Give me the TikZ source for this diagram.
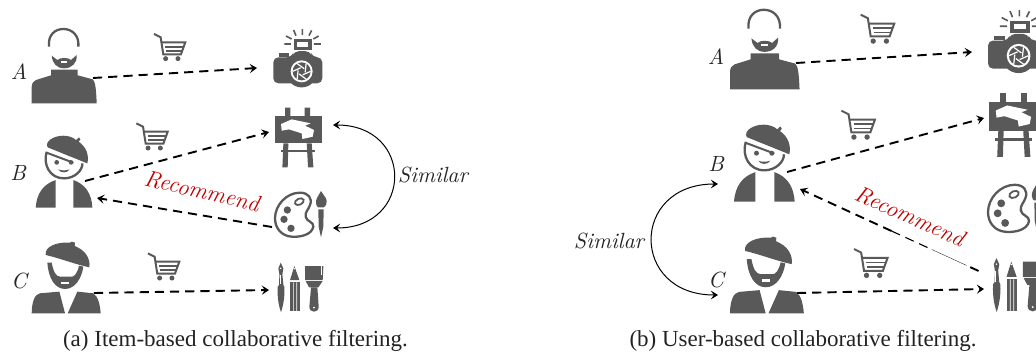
\documentclass[tikz,border=0pt]{standalone}
\usepackage{fontspec}
\setmainfont{Liberation Serif}
\usetikzlibrary{arrows.meta,calc}
\definecolor{icongray}{HTML}{595959}
\definecolor{recred}{HTML}{C00000}
\definecolor{captink}{HTML}{222222}
\newcommand{\handfont}{\fontspec{Latin Modern Roman}\itshape}
\tikzset{
  dashflow/.style={black,line width=0.95pt,dash pattern=on 4.6pt off 3pt,-{Stealth[length=3.6pt,width=4.6pt,inset=1.5pt]}},
  dashplain/.style={black,line width=0.95pt,dash pattern=on 4.6pt off 3pt},
  simarc/.style={black,line width=0.5pt,{Stealth[length=3.6pt,width=4.4pt,inset=1.5pt]}-{Stealth[length=3.6pt,width=4.4pt,inset=1.5pt]}},
  hand/.style={font=\handfont\fontsize{11}{13}\selectfont,inner sep=0pt,text=black!85},
  rec/.style={font=\handfont\fontsize{11.6}{13}\selectfont,inner sep=0pt,text=recred},
  caption/.style={font=\fontsize{11.5}{13}\selectfont,inner sep=0pt,text=captink,anchor=base},
  manA/.pic={
    \begin{scope}[scale=0.3333,shift={(-95,-310)}]
      \draw[icongray,line width=1.15pt] (147,140) .. controls (143,105) and (165,87) .. (190,87) .. controls (215,87) and (238,105) .. (235,140);
      \fill[icongray] (155,167) -- (172,180) .. controls (180,172) and (205,172) .. (213,180) -- (230,165) .. controls (232,190) and (215,205) .. (192,205) .. controls (170,205) and (157,190) .. (155,167) -- cycle;
      \fill[white] (182,184) rectangle (202,189);
      \fill[icongray] (95,310) -- (95,262) .. controls (95,250) and (100,243) .. (108,240) -- (153,226) -- (153,209) -- (233,209) -- (233,226) -- (278,238) .. controls (285,245) and (288,260) .. (290,310) -- cycle;
    \end{scope}
  },
  manB/.pic={
    \begin{scope}[scale=0.3333,shift={(-107,-293)}]
      \draw[icongray,line width=1.15pt] (140,125) .. controls (128,165) and (150,205) .. (192,205) .. controls (225,205) and (248,180) .. (247,160);
      \draw[icongray,line width=1pt] (140,128) -- (220,158);
      \fill[icongray] (143,112) .. controls (133,95) and (160,77) .. (190,77) .. controls (205,77) and (220,82) .. (228,90) -- (237,82) -- (241,88) -- (236,95) .. controls (258,110) and (268,135) .. (262,160) -- cycle;
      \fill[icongray] (170,157) circle[radius=7] (213,157) circle[radius=7];
      \fill[icongray] (175,178) .. controls (185,182) and (198,182) .. (208,178) .. controls (204,190) and (180,190) .. (175,178) -- cycle;
      \fill[icongray] (107,293) .. controls (110,250) and (130,222) .. (167,210) -- (167,293) -- cycle;
      \fill[icongray] (220,210) .. controls (255,222) and (275,250) .. (277,293) -- (220,293) -- cycle;
    \end{scope}
  },
  manC/.pic={
    \begin{scope}[scale=0.3333,shift={(-95,-265)}]
      \fill[icongray] (137,90) .. controls (133,65) and (170,50) .. (210,53) -- (215,50) -- (225,53) -- (224,63) .. controls (255,75) and (272,100) .. (268,127) .. controls (225,118) and (180,100) .. (137,90) -- cycle;
      \fill[icongray] (142,113) -- (155,113) .. controls (160,140) and (168,155) .. (180,155) -- (212,155) .. controls (222,158) and (232,145) .. (237,122) -- (250,125) .. controls (245,160) and (225,192) .. (195,192) .. controls (165,192) and (145,160) .. (142,113) -- cycle;
      \fill[white] (184,170) rectangle (206,178);
      \fill[icongray] (95,265) .. controls (95,230) and (105,207) .. (120,205) -- (178,200) -- (195,265) -- cycle;
      \fill[icongray] (203,265) -- (232,200) -- (280,205) .. controls (295,215) and (300,240) .. (302,265) -- cycle;
    \end{scope}
  },
  cart/.pic={
    \begin{scope}[scale=0.3333,shift={(-460,-100)}]
      \draw[icongray,line width=1pt] (462,102) -- (482,112) -- (490,163) -- (543,163) -- (556,127) -- (487,127);
      \draw[icongray,line width=0.9pt] (496,140) -- (552,140) (498,152) -- (548,152);
      \fill[icongray] (497,176) circle[radius=7.5] (534,176) circle[radius=7.5];
    \end{scope}
  },
  camera/.pic={
    \begin{scope}[scale=0.3333,shift={(-100,-87)}]
      \draw[icongray,line width=0.8pt] (133,132) -- (153,132) (138,108) -- (155,117) (161,90) -- (168,107) (187,87) -- (187,105) (215,91) -- (207,107) (236,108) -- (220,117) (222,132) -- (243,132);
      \fill[icongray] (162,118) rectangle (216,150);
      \fill[white] (172,126) rectangle (205,140);
      \fill[icongray] (117,160) rectangle (148,170);
      \fill[icongray,rounded corners=2.5pt] (100,172) -- (155,172) -- (163,153) -- (210,153) -- (218,172) -- (247,172) -- (247,250) -- (100,250) -- cycle;
      \fill[icongray] (150,245) .. controls (165,268) and (205,268) .. (220,245) -- cycle;
      \fill[white] (185,214) circle[radius=33];
      \fill[icongray] (185,214) circle[radius=27];
      \foreach \a in {0,60,...,300} {
        \draw[white,line width=0.6pt] ($(185,214)+(\a:27)$) -- ($(185,214)+(\a+75:11)$);
      }
    \end{scope}
  },
  easel/.pic={
    \begin{scope}[scale=0.3333,shift={(-29,-53)}]
      \fill[icongray] (60,53) rectangle (76,80) (119,53) rectangle (135,80);
      \fill[icongray] (29,77) rectangle (170,160);
      \fill[icongray] (55,160) -- (70,160) -- (68,232) -- (52,232) -- cycle;
      \fill[icongray] (125,160) -- (140,160) -- (145,232) -- (129,232) -- cycle;
      \fill[icongray] (47,180) rectangle (150,187);
      \fill[white] (48,102) -- (80,88) -- (137,100) -- (120,107) -- (147,120) -- (143,140) -- (112,147) -- (110,130) -- (72,118) -- (50,122) -- cycle;
    \end{scope}
  },
  palette/.pic={
    \begin{scope}[scale=0.3333,shift={(-105,-243)}]
      \draw[icongray,line width=1.15pt] (105,325) .. controls (105,285) and (140,248) .. (180,248) .. controls (205,248) and (218,265) .. (210,285) .. controls (205,300) and (195,305) .. (197,320) .. controls (199,335) and (222,335) .. (220,350) .. controls (215,375) and (180,382) .. (155,380) .. controls (125,378) and (105,355) .. (105,325) -- cycle;
      \draw[icongray,line width=0.9pt,rotate around={25:(178,275)}] (178,275) ellipse[x radius=14,y radius=9];
      \fill[icongray] (142,300) circle[radius=11] (132,328) circle[radius=11] (153,355) circle[radius=11];
      \fill[icongray] (243,243) .. controls (235,258) and (226,268) .. (228,280) .. controls (229,288) and (232,292) .. (235,292) -- (251,292) .. controls (258,290) and (263,275) .. (258,265) .. controls (254,258) and (248,252) .. (243,243) -- cycle;
      \fill[icongray] (235,298) -- (251,298) -- (250,350) -- (243,382) -- (236,350) -- cycle;
    \end{scope}
  },
  brushes/.pic={
    \begin{scope}[scale=0.3333,shift={(-110,-113)}]
      \fill[icongray] (122,113) -- (130,130) -- (127,148) -- (130,180) -- (133,185) .. controls (135,220) and (128,245) .. (123,262) .. controls (117,245) and (111,220) .. (113,185) -- (117,180) -- (118,148) -- (115,130) -- cycle;
      \fill[white] (122,130) circle[radius=2.5];
      \fill[white] (119,150) rectangle (122,178);
      \fill[icongray] (163,123) -- (178,165) -- (150,165) -- cycle;
      \fill[icongray] (150,170) rectangle (180,259);
      \fill[white] (159,172) rectangle (161,259) (169,172) rectangle (171,259);
      \fill[white] (163,131) circle[radius=2.5];
      \fill[icongray] (195,123) -- (250,123) -- (248,165) -- (195,165) -- cycle;
      \fill[white] (244,123) rectangle (245.5,150);
      \fill[icongray] (197,168) -- (248,168) -- (235,187) -- (207,187) -- cycle;
      \fill[icongray] (213,187) -- (232,187) -- (236,245) .. controls (236,265) and (208,265) .. (208,245) -- cycle;
      \fill[white] (222,248) circle[radius=3];
    \end{scope}
  },
}
\begin{document}
\begin{tikzpicture}[x=0.5pt,y=-0.5pt]
  \useasboundingbox (0,0) rectangle (1036,354);
  \clip (0,0) rectangle (1036,354);
  % left panel icons
  \pic at (31.7,103.3) {manA};
  \pic at (35.7,207.7) {manB};
  \pic at (31.7,313.3) {manC};
  \pic at (153.3,33.3) {cart};
  \pic at (135.7,122.7) {cart};
  \pic at (147.3,252.7) {cart};
  \pic at (273.3,29) {camera};
  \pic at (274.7,107.7) {easel};
  \pic at (275,191) {palette};
  \pic at (276.7,262.7) {brushes};
  % right panel icons
  \pic[scale=1.07] at (730,89.3) {manA};
  \pic[scale=1.07] at (734,201.7) {manB};
  \pic[scale=1.07] at (730,313.3) {manC};
  \pic[scale=1.07] at (860,14) {cart};
  \pic[scale=1.07] at (840.7,110) {cart};
  \pic[scale=1.07] at (853.3,248.3) {cart};
  \pic[scale=1.08] at (988,10) {camera};
  \pic[scale=1.07] at (989,93) {easel};
  \pic[scale=1.07] at (988,183) {palette};
  \pic[scale=1.09] at (992,258) {brushes};
  % connector ends, left
  \coordinate (lAout) at (93,78);
  \coordinate (lCam) at (257,68);
  \coordinate (lBout) at (85,181);
  \coordinate (lEasel) at (269,132);
  \coordinate (lPal) at (272,227);
  \coordinate (lBin) at (97,198);
  \coordinate (lCout) at (94,293);
  \coordinate (lBrush) at (269,290);
  \coordinate (lSimT) at (333,125);
  \coordinate (lSimB) at (333,228);
  % connector ends, right
  \coordinate (rAout) at (796,63);
  \coordinate (rCam) at (972,52);
  \coordinate (rBout) at (787,172);
  \coordinate (rEasel) at (984,118);
  \coordinate (rBrushOut) at (983,273);
  \coordinate (rBin) at (800,189);
  \coordinate (rCout) at (797,293);
  \coordinate (rBrush) at (984,289);
  \coordinate (rSimT) at (718,184);
  \coordinate (rSimB) at (718,295);
  % connectors, left
  \draw[dashflow] (lAout) -- (lCam);
  \draw[dashflow] (lBout) -- (lEasel);
  \draw[dashflow] (lPal) -- (lBin);
  \draw[dashflow] (lCout) -- (lBrush);
  \draw[simarc] (lSimT) .. controls +(81,0) and +(81,0) .. (lSimB);
  % connectors, right
  \draw[dashflow] (rAout) -- (rCam);
  \draw[dashflow] (rBout) -- (rEasel);
  \draw[dashflow] ($(rBrushOut)!0.5!(rBin)$) -- (rBin);
  \draw[dashplain,line width=0.55pt] ($(rBrushOut)!0.5!(rBin)$) -- ($(rBrushOut)!0.28!(rBin)$);
  \draw[dashplain,line width=0.15pt,dash pattern=on 4pt off 0pt] ($(rBrushOut)!0.28!(rBin)$) -- ($(rBrushOut)!0.09!(rBin)$);
  \draw[dashplain] ($(rBrushOut)!0.07!(rBin)$) -- (rBrushOut);
  \draw[dashflow] (rCout) -- (rBrush);
  \draw[simarc] (rSimT) .. controls +(-88,0) and +(-88,0) .. (rSimB);
  % labels
  \node[hand] (lA) at (19,72) {A};
  \node[hand] (lB) at (18,173) {B};
  \node[hand] (lC) at (19,281) {C};
  \node[hand] (lSim) at (433,175) {Similar};
  \node[rec,rotate=-13] (lRec) at (202,191) {Recommend};
  \node[hand] (rA) at (716,57) {A};
  \node[hand] (rB) at (716,164) {B};
  \node[hand] (rC) at (716,280) {C};
  \node[hand] (rSim) at (609,241) {Similar};
  \node[rec,rotate=-24] (rRec) at (910,216) {Recommend};
  \node[caption] (capA) at (235.5,346) {(a) Item-based collaborative filtering.};
  \node[caption] (capB) at (803,346) {(b) User-based collaborative filtering.};
\end{tikzpicture}
\end{document}
